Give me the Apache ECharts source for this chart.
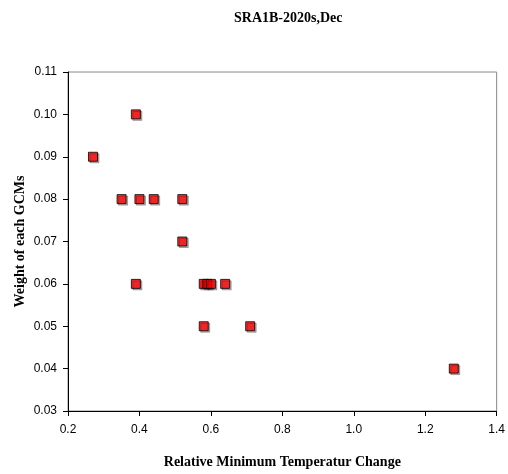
<!DOCTYPE html>
<html>
<head>
<meta charset="utf-8">
<script src="https://cdn.jsdelivr.net/npm/echarts@6/dist/echarts.min.js"></script>
<style>html,body{margin:0;padding:0;background:#fff;}#c{width:508px;height:474px;}</style>
</head>
<body>
<div id="c"></div>
<script>
var xValues = [0.27, 0.39, 0.35, 0.40, 0.44, 0.52, 0.52, 0.39, 0.58, 0.59, 0.60, 0.64, 0.58, 0.71, 1.28];
var yValues = [0.09, 0.10, 0.08, 0.08, 0.08, 0.08, 0.07, 0.06, 0.06, 0.06, 0.06, 0.06, 0.05, 0.05, 0.04];
var titleText = 'SRA1B-2020s,Dec';
var xName = 'Relative Minimum Temperatur Change';
var yName = 'Weight of each GCMs';

var pts = xValues.map(function (x, i) { return [x, yValues[i]]; });
var chart = echarts.init(document.getElementById('c'));
chart.setOption({
  animation: false,
  backgroundColor: '#fff',
  title: {
    text: titleText, left: 229, top: 6,
    textStyle: { fontFamily: 'Liberation Serif', fontWeight: 'bold', fontSize: 14, color: '#000' }
  },
  grid: { left: 68, right: 9, top: 72, bottom: 63, show: true, borderColor: '#888', borderWidth: 1, backgroundColor: 'transparent' },
  xAxis: {
    type: 'value', min: 0.2, max: 1.4, interval: 0.2,
    name: xName, nameLocation: 'middle', nameGap: 44,
    nameTextStyle: { fontFamily: 'Liberation Serif', fontWeight: 'bold', fontSize: 14, color: '#000' },
    axisLine: { show: true, lineStyle: { color: '#000', width: 1 } },
    axisTick: { show: true, length: 5, lineStyle: { color: '#000' } },
    splitLine: { show: false },
    axisLabel: { fontFamily: 'Liberation Sans', fontSize: 12, color: '#000', margin: 13,
      formatter: function (v) { return v.toFixed(1); } }
  },
  yAxis: {
    type: 'value', min: 0.03, max: 0.11, interval: 0.01,
    name: yName, nameLocation: 'middle', nameGap: 41, nameMoveOverlap: false,
    nameTextStyle: { fontFamily: 'Liberation Serif', fontWeight: 'bold', fontSize: 14, color: '#000' },
    axisLine: { show: true, lineStyle: { color: '#000', width: 1 } },
    axisTick: { show: true, length: 5, lineStyle: { color: '#000' } },
    splitLine: { show: false },
    axisLabel: { fontFamily: 'Liberation Sans', fontSize: 12, color: '#000', margin: 11,
      formatter: function (v) { return v.toFixed(2); } }
  },
  series: [{
    type: 'scatter', data: pts, symbol: 'rect', symbolSize: 9,
    itemStyle: { color: '#ff0000', borderColor: '#000', borderWidth: 1,
      shadowColor: 'rgba(0,0,0,0.35)', shadowOffsetX: 1.5, shadowOffsetY: 1.5, shadowBlur: 0 }
  }]
});
</script>
</body>
</html>
